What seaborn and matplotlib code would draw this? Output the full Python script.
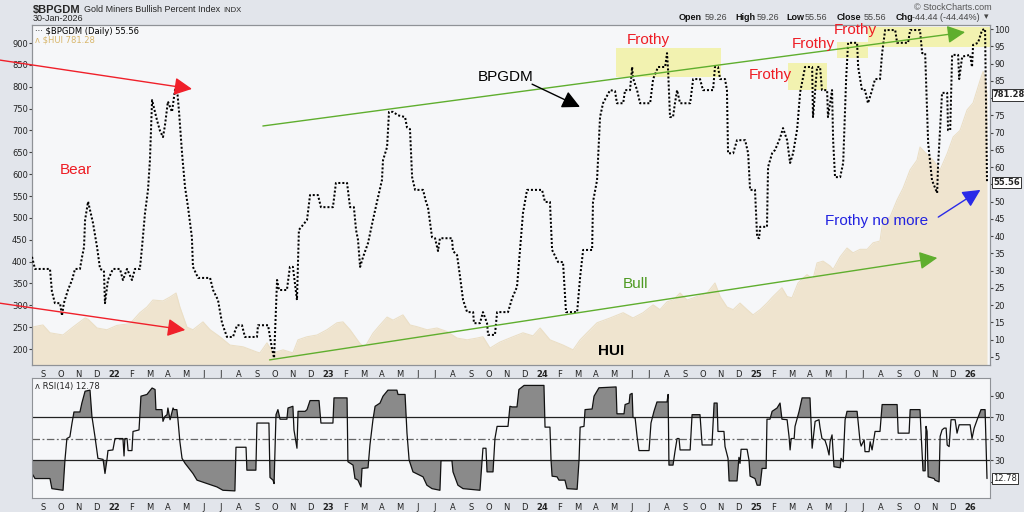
import numpy as np
import pandas as pd
import matplotlib
matplotlib.use("Agg")
import matplotlib.pyplot as plt
import matplotlib.transforms as mtrans
from matplotlib.patches import Rectangle
import seaborn as sns

# time axis is in decimal years (2022.0 = 1 Jan 2022)
bpgdm_t = [2021.617, 2021.631, 2021.701, 2021.710, 2021.724, 2021.748, 2021.757, 2021.766, 2021.785, 2021.804,
           2021.818, 2021.841, 2021.850, 2021.860, 2021.865, 2021.879, 2021.902, 2021.921, 2021.935, 2021.953,
           2021.958, 2021.972, 2021.995, 2022.028, 2022.042, 2022.061, 2022.084, 2022.098, 2022.121, 2022.131,
           2022.145, 2022.159, 2022.168, 2022.178, 2022.201, 2022.215, 2022.229, 2022.238, 2022.252, 2022.271,
           2022.285, 2022.294, 2022.304, 2022.318, 2022.332, 2022.346, 2022.364, 2022.369, 2022.393, 2022.449,
           2022.463, 2022.486, 2022.505, 2022.528, 2022.556, 2022.575, 2022.598, 2022.612, 2022.668, 2022.673,
           2022.720, 2022.729, 2022.738, 2022.748, 2022.762, 2022.771, 2022.808, 2022.822, 2022.836, 2022.855,
           2022.864, 2022.902, 2022.916, 2022.953, 2022.967, 2023.023, 2023.037, 2023.089, 2023.103, 2023.121,
           2023.131, 2023.140, 2023.150, 2023.164, 2023.187, 2023.210, 2023.229, 2023.252, 2023.257, 2023.276,
           2023.285, 2023.304, 2023.327, 2023.360, 2023.369, 2023.383, 2023.393, 2023.407, 2023.444, 2023.458,
           2023.467, 2023.486, 2023.500, 2023.514, 2023.523, 2023.579, 2023.584, 2023.603, 2023.617, 2023.631,
           2023.650, 2023.678, 2023.682, 2023.710, 2023.724, 2023.743, 2023.748, 2023.780, 2023.790, 2023.841,
           2023.860, 2023.883, 2023.897, 2023.911, 2023.930, 2024.000, 2024.014, 2024.037, 2024.047, 2024.075,
           2024.098, 2024.112, 2024.164, 2024.178, 2024.192, 2024.234, 2024.238, 2024.257, 2024.271, 2024.285,
           2024.318, 2024.341, 2024.350, 2024.379, 2024.388, 2024.411, 2024.421, 2024.425, 2024.444, 2024.458,
           2024.505, 2024.519, 2024.542, 2024.575, 2024.584, 2024.589, 2024.598, 2024.612, 2024.621, 2024.631,
           2024.645, 2024.692, 2024.706, 2024.738, 2024.752, 2024.799, 2024.808, 2024.822, 2024.832, 2024.855,
           2024.864, 2024.869, 2024.893, 2024.911, 2024.949, 2024.963, 2024.972, 2024.995, 2025.005, 2025.014,
           2025.019, 2025.051, 2025.056, 2025.075, 2025.089, 2025.112, 2025.126, 2025.145, 2025.159, 2025.173,
           2025.192, 2025.206, 2025.229, 2025.262, 2025.266, 2025.285, 2025.299, 2025.308, 2025.332, 2025.336,
           2025.355, 2025.360, 2025.369, 2025.393, 2025.407, 2025.421, 2025.430, 2025.472, 2025.477, 2025.495,
           2025.509, 2025.523, 2025.542, 2025.556, 2025.579, 2025.589, 2025.603, 2025.650, 2025.659, 2025.710,
           2025.720, 2025.766, 2025.776, 2025.790, 2025.804, 2025.822, 2025.846, 2025.850, 2025.869, 2025.893,
           2025.897, 2025.907, 2025.916, 2025.944, 2025.949, 2025.963, 2026.000, 2026.009, 2026.014, 2026.037,
           2026.056, 2026.070, 2026.079]
bpgdm_v = [34, 30.5, 30.5, 24, 20.6, 20.6, 17, 20.6, 24.4, 27.3,
           30.5, 30.5, 33.7, 36.8, 44.7, 50, 43.8, 36.8, 30.5, 30,
           20.6, 27.3, 30.5, 30.5, 27.3, 30.5, 27.3, 30.5, 30.5, 36.8,
           46.7, 53.4, 62, 79.4, 73.6, 70.5, 68.7, 72, 79, 76,
           82.3, 83.2, 76, 64, 54.2, 48.4, 39.7, 31.1, 27.9, 27.9,
           24.4, 21.5, 14.8, 10.8, 10.8, 14.2, 14.2, 10.8, 10.8, 14.2,
           14.2, 10.8, 7.6, 4.7, 27.3, 24.4, 24.4, 31.1, 31.1, 21.5,
           41.8, 44.7, 51.9, 51.9, 48.4, 48.4, 55.4, 55.4, 48.4, 48.4,
           41.8, 39, 31.1, 34, 38, 44.7, 50, 56.2, 62, 65.8,
           76, 76, 75, 74.5, 71.5, 71, 57.1, 53.4, 53.4, 49.9,
           48.4, 39.7, 39.4, 35.7, 39.4, 39.4, 35.7, 34.5, 28.2, 21.5,
           18, 18, 14.8, 14.8, 18, 14.8, 11.4, 11.4, 18, 18,
           22, 25.3, 36, 46.7, 53.4, 53.4, 49.9, 49.9, 36, 32.5,
           32.5, 18, 18, 28.2, 36, 36, 49.9, 56.2, 74.5, 78.5,
           82.3, 82, 78.5, 78.5, 82.3, 82.3, 89, 85.8, 82.3, 78.5,
           78.5, 85.5, 89, 89, 93, 88, 74.5, 74.5, 78.5, 82.3,
           78.5, 78.5, 85.5, 85.5, 82.3, 82.3, 89, 89, 85.5, 85.5,
           82.3, 64, 64, 67.8, 67.8, 64, 53.4, 53.4, 39.7, 39.4,
           42.7, 42.7, 60, 64, 65, 68.4, 71.3, 67.8, 61.2, 64,
           71, 81.7, 89, 89, 74.5, 89, 89, 82.3, 82.3, 74.5,
           82.3, 67.8, 57.1, 57.1, 61.2, 85.8, 96, 96, 89, 82.3,
           82.3, 78.5, 82.3, 85.5, 85.5, 93, 99.7, 99.7, 96, 96,
           99.7, 99.7, 93, 93, 67, 56.2, 52.5, 60, 81.5, 81.5,
           70.7, 70.7, 92.5, 92.5, 85.5, 92, 92.5, 89, 95.4, 96,
           99.7, 100, 55.56]

hui_t = [2021.617, 2021.668, 2021.701, 2021.762, 2021.808, 2021.865, 2021.879, 2021.921, 2021.967, 2022.014,
         2022.075, 2022.121, 2022.154, 2022.182, 2022.229, 2022.262, 2022.290, 2022.308, 2022.341, 2022.369,
         2022.416, 2022.449, 2022.495, 2022.542, 2022.603, 2022.668, 2022.682, 2022.715, 2022.743, 2022.790,
         2022.836, 2022.860, 2022.902, 2022.949, 2022.995, 2023.042, 2023.070, 2023.103, 2023.150, 2023.173,
         2023.210, 2023.243, 2023.276, 2023.304, 2023.350, 2023.383, 2023.416, 2023.463, 2023.509, 2023.556,
         2023.603, 2023.650, 2023.696, 2023.724, 2023.757, 2023.790, 2023.804, 2023.864, 2023.911, 2023.958,
         2023.991, 2024.037, 2024.098, 2024.145, 2024.178, 2024.210, 2024.257, 2024.318, 2024.379, 2024.425,
         2024.472, 2024.519, 2024.551, 2024.584, 2024.612, 2024.645, 2024.678, 2024.724, 2024.771, 2024.808,
         2024.832, 2024.864, 2024.893, 2024.925, 2024.958, 2024.986, 2025.019, 2025.051, 2025.079, 2025.121,
         2025.145, 2025.168, 2025.196, 2025.238, 2025.266, 2025.285, 2025.313, 2025.346, 2025.360, 2025.393,
         2025.425, 2025.453, 2025.486, 2025.519, 2025.547, 2025.579, 2025.593, 2025.626, 2025.659, 2025.687,
         2025.720, 2025.752, 2025.766, 2025.799, 2025.827, 2025.860, 2025.893, 2025.921, 2025.953, 2025.986,
         2026.014, 2026.047, 2026.061, 2026.070, 2026.079]
hui_v = [250, 255, 237, 232, 250, 271, 268, 248, 244, 254,
         258, 283, 296, 312, 310, 319, 328, 296, 250, 244,
         262, 244, 228, 209, 205, 193, 191, 214, 191, 198,
         191, 221, 228, 232, 244, 260, 262, 244, 212, 205,
         236, 255, 273, 266, 278, 255, 251, 244, 248, 240,
         225, 221, 225, 228, 202, 212, 216, 228, 237, 230,
         248, 221, 209, 198, 221, 237, 260, 271, 283, 271,
         283, 301, 290, 308, 312, 328, 312, 320, 328, 351,
         320, 296, 290, 305, 290, 278, 290, 305, 320, 340,
         320, 317, 351, 370, 360, 397, 401, 390, 382, 411,
         431, 420, 428, 428, 443, 447, 495, 502, 541, 568,
         610, 632, 662, 645, 632, 610, 647, 685, 700, 747,
         763, 815, 835, 820, 781.28]

rsi_t = [2021.617, 2021.631, 2021.701, 2021.710, 2021.762, 2021.771, 2021.780, 2021.794, 2021.804, 2021.813,
         2021.841, 2021.850, 2021.865, 2021.888, 2021.897, 2021.911, 2021.925, 2021.949, 2021.958, 2021.967,
         2021.972, 2021.995, 2022.005, 2022.042, 2022.047, 2022.051, 2022.061, 2022.066, 2022.084, 2022.089,
         2022.117, 2022.126, 2022.154, 2022.178, 2022.192, 2022.196, 2022.224, 2022.229, 2022.238, 2022.248,
         2022.252, 2022.262, 2022.276, 2022.280, 2022.294, 2022.299, 2022.308, 2022.318, 2022.332, 2022.369,
         2022.388, 2022.435, 2022.481, 2022.509, 2022.565, 2022.570, 2022.617, 2022.621, 2022.663, 2022.668,
         2022.724, 2022.729, 2022.743, 2022.748, 2022.757, 2022.766, 2022.776, 2022.808, 2022.813, 2022.836,
         2022.841, 2022.855, 2022.860, 2022.893, 2022.902, 2022.916, 2022.958, 2022.967, 2023.023, 2023.028,
         2023.089, 2023.093, 2023.117, 2023.126, 2023.140, 2023.154, 2023.159, 2023.187, 2023.196, 2023.210,
         2023.220, 2023.243, 2023.257, 2023.280, 2023.322, 2023.327, 2023.360, 2023.369, 2023.379, 2023.397,
         2023.444, 2023.462, 2023.486, 2023.523, 2023.528, 2023.579, 2023.584, 2023.607, 2023.631, 2023.710,
         2023.724, 2023.738, 2023.743, 2023.771, 2023.780, 2023.790, 2023.841, 2023.850, 2023.860, 2023.883,
         2023.892, 2023.916, 2024.009, 2024.014, 2024.037, 2024.042, 2024.047, 2024.070, 2024.079, 2024.107,
         2024.117, 2024.164, 2024.173, 2024.178, 2024.196, 2024.201, 2024.234, 2024.243, 2024.266, 2024.346,
         2024.350, 2024.383, 2024.388, 2024.407, 2024.411, 2024.421, 2024.425, 2024.435, 2024.444, 2024.453,
         2024.500, 2024.509, 2024.523, 2024.537, 2024.584, 2024.589, 2024.593, 2024.612, 2024.621, 2024.631,
         2024.640, 2024.645, 2024.692, 2024.701, 2024.738, 2024.748, 2024.794, 2024.804, 2024.818, 2024.822,
         2024.850, 2024.855, 2024.869, 2024.874, 2024.911, 2024.920, 2024.925, 2024.930, 2024.958, 2024.967,
         2024.972, 2024.995, 2025.005, 2025.019, 2025.028, 2025.047, 2025.051, 2025.065, 2025.075, 2025.098,
         2025.112, 2025.121, 2025.145, 2025.154, 2025.159, 2025.164, 2025.178, 2025.182, 2025.201, 2025.215,
         2025.252, 2025.262, 2025.276, 2025.294, 2025.299, 2025.308, 2025.322, 2025.332, 2025.341, 2025.346,
         2025.355, 2025.364, 2025.393, 2025.397, 2025.407, 2025.416, 2025.425, 2025.472, 2025.481, 2025.486,
         2025.491, 2025.505, 2025.509, 2025.528, 2025.533, 2025.542, 2025.556, 2025.579, 2025.589, 2025.659,
         2025.664, 2025.715, 2025.720, 2025.766, 2025.771, 2025.780, 2025.790, 2025.794, 2025.799, 2025.804,
         2025.832, 2025.836, 2025.855, 2025.860, 2025.869, 2025.879, 2025.888, 2025.893, 2025.902, 2025.911,
         2025.930, 2025.939, 2025.949, 2026.000, 2026.009, 2026.019, 2026.033, 2026.051, 2026.070, 2026.079]
rsi_v = [17.5, 12.8, 12.8, 3.4, 1.9, 30, 50, 51.6, 64.4, 74.7,
         74.7, 83, 94, 95, 70.6, 52, 31.6, 30.6, 17.5, 30,
         38.8, 39.4, 50, 50, 33.8, 50, 50, 38.8, 38.8, 56.6,
         58, 89.4, 91, 97, 95.6, 76.9, 76.9, 66, 70.6, 72.2,
         78.4, 67.5, 78.4, 76.9, 76.9, 67.5, 47, 31.6, 27, 17.5,
         11.3, 8.1, 5, 1.9, 1.3, 41.9, 41.9, 20.6, 20.6, 64.4,
         64.4, 13.8, 11.3, 8.1, 72.2, 76.9, 68, 68, 78.4, 80,
         58, 41, 75.3, 75.3, 76.9, 85.3, 85.3, 64.4, 64.4, 87.8,
         87.8, 28.4, 25.3, 12.8, 11.3, 5, 22.2, 22.8, 44, 67.5,
         80, 83, 89.4, 95, 95, 91, 91, 55, 30, 19,
         14.4, 6.6, 3.4, 1.9, 29.4, 29.4, 19, 6.6, 3.4, 1.9,
         41, 41, 19, 19, 50, 61.3, 61.3, 80, 79.4, 79.4,
         95.6, 99.4, 99.4, 60.6, 60.6, 30, 15, 14.4, 11.3, 11.3,
         3.4, 2.8, 30, 60.6, 61.3, 76.9, 77.5, 89.4, 97.2, 98,
         73, 73, 81.6, 83, 91, 92, 69.7, 69, 52, 38.8,
         38.8, 64.4, 75.3, 84, 84, 91, 25.3, 25.3, 37.8, 50,
         50, 39.4, 39.4, 72.2, 72.2, 44, 44, 83, 83, 56.6,
         56.6, 42.5, 31.6, 10.6, 10.6, 32.5, 26.9, 40, 40, 30,
         15, 12.8, 6.6, 6.6, 22.2, 22.2, 68, 68, 75.3, 78.4,
         83, 68, 67.5, 52, 39.4, 50, 50, 61.3, 75.3, 87.8,
         87.8, 41, 66, 67.5, 60, 50, 48.4, 42.2, 34.7, 47.2,
         53.4, 23.8, 22.8, 31.6, 28.4, 67.5, 75.3, 75.3, 56.6, 47,
         43, 48.8, 37.8, 37.8, 47, 39.4, 56.6, 56.6, 81.6, 81.6,
         55, 55, 76.9, 76.9, 55, 20, 20, 61.3, 56.6, 14.4,
         12.8, 11.3, 9.7, 52, 58, 59.7, 59.7, 44, 42.5, 67.5,
         67.5, 55, 62.8, 62.8, 50, 59.7, 67.5, 76.9, 76.9, 12.78]

month_letters = ['J', 'F', 'M', 'A', 'M', 'J', 'J', 'A', 'S', 'O', 'N', 'D']
tick_pos = []
tick_lab = []
for yr in range(2021, 2027):
    for mo in range(12):
        t = yr + mo / 12
        if 2021.65 < t < 2026.05:
            tick_pos.append(t)
            tick_lab.append(str(yr)[2:] if mo == 0 else month_letters[mo])

bp = pd.DataFrame({'t': bpgdm_t, 'v': bpgdm_v})
hui = pd.DataFrame({'t': hui_t, 'v': hui_v})
rsi = pd.DataFrame({'t': rsi_t, 'v': rsi_v})

sns.set_style("white")
plt.rcParams['font.family'] = ['DejaVu Sans']

W, H = 1024, 512
fig = plt.figure(figsize=(10.24, 5.12), dpi=100, facecolor='#e2e5eb')
ax = fig.add_axes([32 / W, 1 - 365 / H, 958 / W, 340 / H])
ax2 = ax.twinx()
rax = fig.add_axes([32 / W, 1 - 498 / H, 958 / W, 120 / H])

xlim = (2021.617, 2026.093)
tan = '#efe4cf'

# HUI area
ax.set_facecolor('#f6f7f9')
ax.fill_between(hui['t'], hui['v'], 100, color=tan, lw=0, zorder=1)
sns.lineplot(data=hui, x='t', y='v', ax=ax, color='#ebdfc6', lw=0.8, sort=False, estimator=None, zorder=1)
ax.set_ylim(163.4, 941.2)
ax.set_yticks(range(200, 901, 50))

# BPGDM dotted line
sns.lineplot(data=bp, x='t', y='v', ax=ax2, color='black', lw=1.45, linestyle=(0, (1, 1)),
             sort=False, estimator=None, zorder=3)
ax2.set_ylim(2.68, 101.16)
right_ticks = list(range(5, 101, 5))
ax2.set_yticks(right_ticks)
# the last-value boxes sit where 55 and 80 would be
ax2.set_yticklabels(['' if v in (55, 80) else str(v) for v in right_ticks])

for a in (ax, ax2, rax):
    a.set_xlim(*xlim)
    a.set_xlabel('')
    a.set_ylabel('')
    for s in a.spines.values():
        s.set_color('#8f9297')
        s.set_linewidth(0.8)

for a in (ax, rax):
    a.set_xticks(tick_pos)
    a.set_xticklabels(tick_lab)
    a.tick_params(axis='x', labelsize=6, length=2, pad=1.5, colors='#444', labelcolor='#222')
    for lab in a.get_xticklabels():
        if lab.get_text().isdigit():
            lab.set_fontweight('bold')
ax.tick_params(axis='y', labelsize=6, length=2, pad=1, colors='#444', labelcolor='#222')
ax2.tick_params(axis='y', labelsize=6, length=2, pad=1, colors='#444', labelcolor='#222')

# yellow "frothy" zones (axes fraction)
for (x0, x1, y0, y1) in [(0.610, 0.719, 0.847, 0.932), (0.789, 0.830, 0.809, 0.888),
                         (0.840, 0.873, 0.903, 0.950), (0.873, 1.0, 0.935, 0.994)]:
    ax2.add_patch(Rectangle((x0, y0), x1 - x0, y1 - y0, transform=ax2.transAxes,
                            color='#f2f2a4', alpha=0.85, lw=0, zorder=1))

def arrow(p0, p1, color, hw=0.45):
    ax2.annotate('', xy=p1, xytext=p0, xycoords='axes fraction', textcoords='axes fraction',
                 annotation_clip=False,
                 arrowprops=dict(arrowstyle='-|>,head_length=0.9,head_width=%s' % hw, color=color,
                                 lw=1.0, mutation_scale=12, shrinkA=0, shrinkB=0, clip_on=False))

arrow((-0.034, 0.897), (0.167, 0.812), '#f0202a')
arrow((-0.034, 0.182), (0.160, 0.103), '#f0202a')
arrow((0.241, 0.703), (0.974, 0.979), '#5fae2e')
arrow((0.248, 0.015), (0.945, 0.315), '#5fae2e')
arrow((0.522, 0.826), (0.572, 0.759), 'black')
arrow((0.946, 0.435), (0.990, 0.515), '#2a2ae8')

txt = dict(transform=ax2.transAxes, ha='center', va='center', fontsize=11, family='Liberation Sans', zorder=6)
ax2.text(0.046, 0.574, 'Bear', color='#ee1c24', **txt)
ax2.text(0.494, 0.847, 'BPGDM', color='black', **txt)
ax2.text(0.643, 0.956, 'Frothy', color='#ee1c24', **txt)
ax2.text(0.771, 0.853, 'Frothy', color='#ee1c24', **txt)
ax2.text(0.816, 0.944, 'Frothy', color='#ee1c24', **txt)
ax2.text(0.859, 0.985, 'Frothy', color='#ee1c24', **txt)
ax2.text(0.630, 0.238, 'Bull', color='#4e9a22', **txt)
ax2.text(0.605, 0.041, 'HUI', color='black', fontweight='bold', **txt)
ax2.text(0.882, 0.424, 'Frothy no more', color='#2222e0', **txt)

# legend texts inside the price panel
ax2.text(0.003, 0.982, '\u00b7\u00b7\u00b7 \\$BPGDM (Daily) 55.56', transform=ax2.transAxes,
         fontsize=6, va='center', ha='left', color='black', zorder=6)
ax2.text(0.003, 0.955, '\u028c \\$HUI 781.28', transform=ax2.transAxes,
         fontsize=6, va='center', ha='left', color='#d8b66a', zorder=6)

# last value boxes on the right axis
box = dict(boxstyle='square,pad=0.15', fc='white', ec='#333', lw=0.7)
ax2.text(1.003, 781.28, '781.28', transform=mtrans.blended_transform_factory(ax2.transAxes, ax.transData),
         fontsize=6, fontweight='bold', va='center', ha='left', bbox=box, zorder=7, clip_on=False)
ax2.text(1.003, 55.56, '55.56', transform=ax2.get_yaxis_transform(),
         fontsize=6, fontweight='bold', va='center', ha='left', bbox=box, zorder=7, clip_on=False)

# RSI panel
rax.set_facecolor('#f6f7f9')
r = np.array(rsi_v)
rt = np.array(rsi_t)
rax.fill_between(rt, r, 70, where=r > 70, interpolate=True, color='#8a8a8a', lw=0)
rax.fill_between(rt, r, 30, where=r < 30, interpolate=True, color='#8a8a8a', lw=0)
rax.axhline(70, color='#222', lw=0.9)
rax.axhline(30, color='#222', lw=0.9)
rax.axhline(50, color='#666', lw=0.9, linestyle=(0, (6, 2, 1.5, 2)))
sns.lineplot(data=rsi, x='t', y='v', ax=rax, color='#111', lw=0.9, sort=False, estimator=None)
rax.set_xlabel('')
rax.set_ylabel('')
rax.set_ylim(-5.3, 106.3)
rax.set_yticks([10, 30, 50, 70, 90])
rax.set_yticklabels(['', '30', '50', '70', '90'])
rax.yaxis.tick_right()
rax.tick_params(axis='y', labelsize=6, length=2, pad=1, colors='#444', labelcolor='#222')
rax.text(0.003, 0.93, '\u028c RSI(14) 12.78', transform=rax.transAxes, fontsize=6, va='center', ha='left')
rax.text(1.003, 12.78, '12.78', transform=rax.get_yaxis_transform(),
         fontsize=6, va='center', ha='left', bbox=box, zorder=7, clip_on=False)

# header
fig.text(33 / W, 1 - 10 / H, '\\$BPGDM', fontsize=8, fontweight='bold', family='Liberation Sans', va='center')
fig.text(84 / W, 1 - 10 / H, 'Gold Miners Bullish Percent Index', fontsize=6.5, family='Liberation Sans', va='center')
fig.text(223 / W, 1 - 10 / H, 'INDX', fontsize=5.5, family='Liberation Sans', va='center')
fig.text(33 / W, 1 - 18.5 / H, '30-Jan-2026', fontsize=6.5, family='Liberation Sans', va='center')
fig.text(992 / W, 1 - 7 / H, '\u00a9 StockCharts.com', fontsize=6.5, family='Liberation Sans',
         va='center', ha='right', color='#555')
hdr = [(679, 'Open', True), (705, '59.26', False), (735, 'High', True), (757, '59.26', False),
       (786, 'Low', True), (805, '55.56', False), (837, 'Close', True), (864, '55.56', False),
       (896, 'Chg', True), (912, '-44.44 (-44.44%)', False), (984, '\u25be', False)]
for x, s, b in hdr:
    fig.text(x / W, 1 - 17 / H, s, fontsize=6.5, family=['Liberation Sans', 'DejaVu Sans'], va='center',
             fontweight='bold' if b else 'normal', color='#111' if b else '#444')

fig.savefig('out.png', dpi=100, facecolor=fig.get_facecolor())
